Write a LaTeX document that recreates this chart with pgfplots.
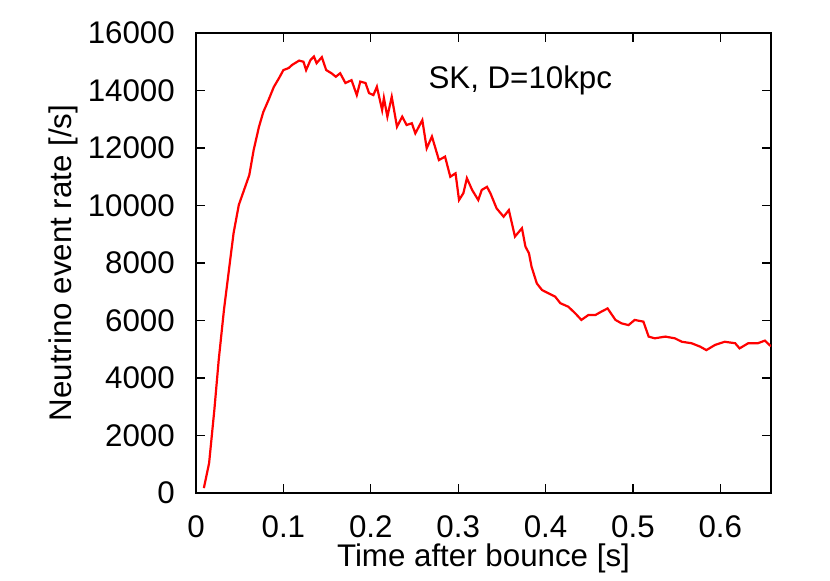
\documentclass[border=0pt]{standalone}
\usepackage{pgfplots}
\pgfplotsset{compat=1.18}
\usepackage{fontspec}
\setmainfont{Liberation Sans}
\begin{document}
\fontsize{31.3}{37}\selectfont
\begin{tikzpicture}
\path[use as bounding box] (-196pt,-88pt) rectangle (634pt,493pt);
\begin{axis}[
  at={(0,0)}, anchor=south west,
  scale only axis, width=575pt, height=460pt,
  xmin=0, xmax=0.658, ymin=0, ymax=16000,
  xtick={0,0.1,0.2,0.3,0.4,0.5,0.6},
  ytick={0,2000,4000,6000,8000,10000,12000,14000,16000},
  xticklabels={0,0.1,0.2,0.3,0.4,0.5,0.6},
  /pgf/number format/assume math mode=true,
  /pgf/number format/set thousands separator={},
  scaled y ticks=false,
  tick align=inside, tick pos=both,
  major tick length=9pt,
  every tick/.style={black, line width=1.2pt},
  axis line style={black, line width=2pt},
  yticklabel style={anchor=east, inner sep=0pt, xshift=-21pt},
  xticklabel style={anchor=north, inner sep=0pt, yshift=-22pt},
  xlabel={Time after bounce [s]},
  ylabel={Neutrino event rate [/s]},
  xlabel style={at={(axis description cs:0.5,-0.1587)}, anchor=base, inner sep=0pt},
  ylabel style={at={(axis description cs:-0.2157,0.5)}, anchor=base, inner sep=0pt},
  clip=true,
]
\addplot[red, line width=2.2pt, mark=none] coordinates {
(0.009,170) (0.015,1040) (0.021,2890) (0.026,4630) (0.032,6370) (0.038,7830)
(0.043,9040) (0.049,10020) (0.055,10540) (0.061,11060) (0.066,11930) (0.072,12730)
(0.077,13250) (0.083,13670) (0.089,14120) (0.095,14430) (0.100,14710) (0.106,14780)
(0.110,14890) (0.118,15040) (0.123,15000) (0.126,14710) (0.131,15060) (0.135,15180)
(0.138,14950) (0.144,15160) (0.149,14710) (0.155,14600) (0.160,14480) (0.165,14600)
(0.171,14260) (0.178,14360) (0.184,13840) (0.188,14310) (0.194,14260) (0.198,13910)
(0.203,13840) (0.207,14130) (0.213,13320) (0.215,13740) (0.219,13090) (0.224,13780)
(0.230,12740) (0.236,13090) (0.241,12800) (0.247,12860) (0.251,12510) (0.259,12970)
(0.264,11990) (0.270,12400) (0.278,11580) (0.285,11700) (0.291,11000) (0.297,11120)
(0.301,10190) (0.306,10430) (0.310,10950) (0.316,10540) (0.323,10190) (0.327,10540)
(0.333,10650) (0.337,10420) (0.344,9900) (0.352,9610) (0.358,9840) (0.365,8920)
(0.373,9210) (0.377,8570) (0.381,8340) (0.384,7870) (0.390,7290) (0.396,7060)
(0.403,6950) (0.411,6830) (0.417,6600) (0.426,6480) (0.434,6250) (0.441,6020)
(0.449,6190) (0.457,6190) (0.464,6310) (0.471,6420) (0.480,6020) (0.487,5900)
(0.495,5840) (0.502,6020) (0.512,5960) (0.518,5440) (0.525,5380) (0.537,5440)
(0.548,5380) (0.556,5260) (0.567,5210) (0.577,5090) (0.584,4970) (0.594,5150)
(0.605,5260) (0.617,5210) (0.622,5030) (0.632,5210) (0.643,5210) (0.651,5300)
(0.658,5100)
};
\node[anchor=base, inner sep=0pt] at (axis description cs:0.564,0.880) {SK, D=10kpc};
\end{axis}
\end{tikzpicture}
\end{document}
